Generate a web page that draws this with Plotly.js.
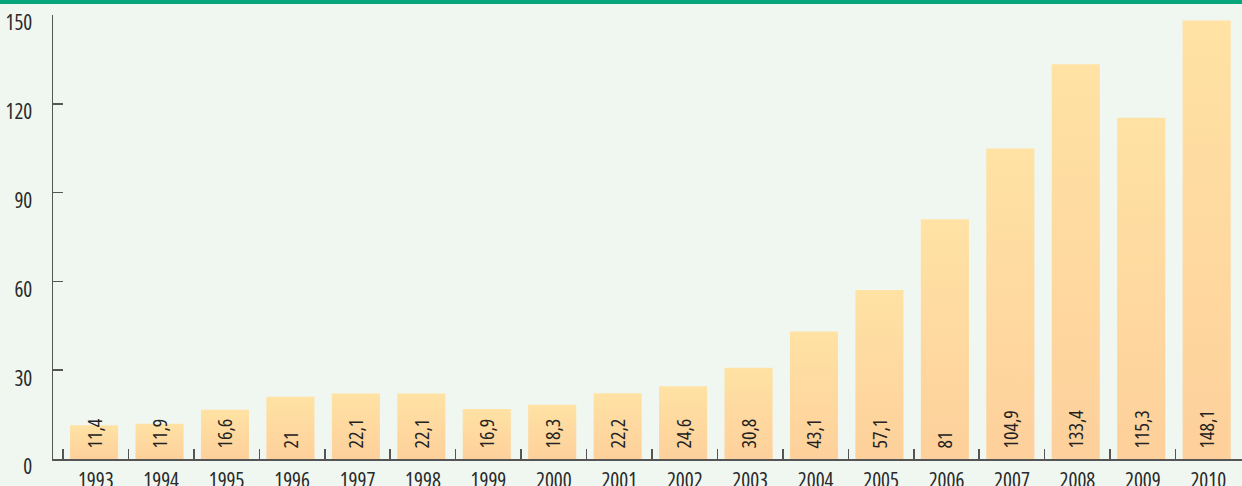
<!DOCTYPE html>
<html>
<head>
<meta charset="utf-8">
<script src="https://cdn.plot.ly/plotly-3.0.1.min.js"></script>
<style>
  html, body { margin: 0; padding: 0; background: #f0f7f1; }
  #wrap { position: relative; width: 1242px; height: 486px; overflow: hidden; }
  #topbar { position: absolute; left: 0; top: 0; width: 1242px; height: 4px; background: #06a57c; z-index: 5; }
  #chart { position: absolute; left: 0; top: 0; width: 1242px; height: 486px; }
  svg text { font-stretch: 82% !important; }
</style>
</head>
<body>
<div id="wrap">
  <div id="chart"></div>
  <div id="topbar"></div>
</div>
<script>
const years = ['1993','1994','1995','1996','1997','1998','1999','2000','2001','2002','2003','2004','2005','2006','2007','2008','2009','2010'];
const values = [11.4, 11.9, 16.6, 21, 22.1, 22.1, 16.9, 18.3, 22.2, 24.6, 30.8, 43.1, 57.1, 81, 104.9, 133.4, 115.3, 148.1];
const yTicks = [0, 30, 60, 90, 120, 150];

const labels = values.map(v => '\u00a0\u00a0' + String(v).replace('.', ','));
const FONT = '"Open Sans", sans-serif';

const trace = {
  type: 'bar',
  x: years,
  y: values,
  text: labels,
  textposition: 'inside',
  insidetextanchor: 'start',
  textangle: -90,
  constraintext: 'none',
  cliponaxis: false,
  textfont: { family: FONT, size: 20, color: '#222222' },
  width: 0.735,
  offset: -0.3925,
  marker: { color: '#fedaa0', line: { width: 0 } },
  hoverinfo: 'none'
};

const layout = {
  width: 1242,
  height: 486,
  margin: { l: 53, r: 0, t: 15, b: 27, pad: 0 },
  paper_bgcolor: '#f0f7f1',
  plot_bgcolor: '#f0f7f1',
  showlegend: false,
  font: { family: FONT, size: 21, color: '#2a2a2a' },
  xaxis: {
    type: 'category',
    range: [-0.653, 17.515],
    showline: true,
    linecolor: '#555555',
    linewidth: 1.5,
    ticks: 'inside',
    tickson: 'boundaries',
    ticklen: 10,
    tickwidth: 1.5,
    tickcolor: '#555555',
    showgrid: false,
    zeroline: false,
    tickfont: { family: FONT, size: 21, color: '#2a2a2a' },
    ticklabelstandoff: 2
  },
  yaxis: {
    range: [0, 150],
    tickvals: yTicks,
    ticktext: yTicks.map(String),
    showline: true,
    linecolor: '#555555',
    linewidth: 1.5,
    ticks: 'inside',
    ticklen: 10,
    tickwidth: 1.5,
    tickcolor: '#555555',
    showgrid: false,
    zeroline: false,
    tickfont: { family: FONT, size: 21, color: '#2a2a2a' },
    ticklabelstandoff: 15,
    ticklabelshift: 8
  },
  bargap: 0.265
};

Plotly.newPlot('chart', [trace], layout, { staticPlot: true, displayModeBar: false }).then(gd => {
  const svg = gd.querySelector('svg.main-svg');
  const ns = 'http://www.w3.org/2000/svg';
  let defs = svg.querySelector('defs');
  if (!defs) { defs = document.createElementNS(ns, 'defs'); svg.insertBefore(defs, svg.firstChild); }
  const grad = document.createElementNS(ns, 'linearGradient');
  grad.setAttribute('id', 'barGrad');
  grad.setAttribute('x1', '0'); grad.setAttribute('y1', '0');
  grad.setAttribute('x2', '0'); grad.setAttribute('y2', '1');
  [['0', '#ffe2a4'], ['1', '#fed09b']].forEach(([o, c]) => {
    const s = document.createElementNS(ns, 'stop');
    s.setAttribute('offset', o); s.setAttribute('stop-color', c);
    grad.appendChild(s);
  });
  defs.appendChild(grad);
  gd.querySelectorAll('.bars .point path').forEach(p => { p.style.fill = 'url(#barGrad)'; });
});
</script>
</body>
</html>
